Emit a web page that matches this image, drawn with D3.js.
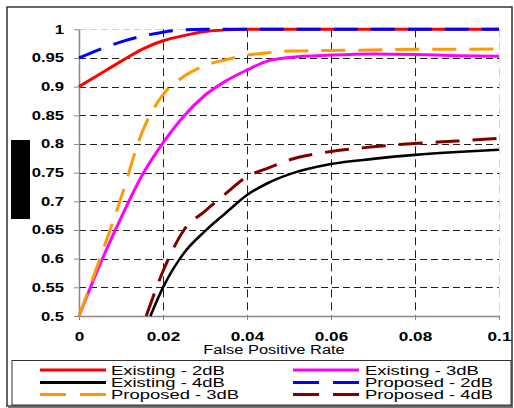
<!DOCTYPE html>
<html>
<head>
<meta charset="utf-8">
<script src="https://cdn.jsdelivr.net/npm/d3@7"></script>
<style>
body { margin: 0; background: #fff; }
svg { display: block; font-family: "Liberation Sans", Arial, sans-serif; }
</style>
</head>
<body>
<script>
// data
var xTicks = [0, 0.02, 0.04, 0.06, 0.08, 0.1];
var yTicks = [0.5, 0.55, 0.6, 0.65, 0.7, 0.75, 0.8, 0.85, 0.9, 0.95, 1];

var fpr = [0, 0.005, 0.01, 0.015, 0.02, 0.025, 0.03, 0.035, 0.04, 0.045, 0.05, 0.06, 0.07, 0.08, 0.09, 0.1];
var existing2dB = [0.9, 0.922, 0.944, 0.965, 0.98, 0.989, 0.996, 0.999, 1, 1, 1, 1, 1, 1, 1, 1];
var existing3dB = [0.5, 0.59, 0.671, 0.745, 0.802, 0.849, 0.885, 0.91, 0.929, 0.945, 0.951, 0.955, 0.957, 0.956, 0.954, 0.953];
var proposed2dB = [0.95, 0.965, 0.978, 0.988, 0.995, 0.999, 1, 1, 1, 1, 1, 1, 1, 1, 1, 1];
var proposed3dB = [0.5, 0.6, 0.706, 0.82, 0.886, 0.918, 0.937, 0.947, 0.955, 0.959, 0.962, 0.963, 0.964, 0.965, 0.965, 0.966];

var fprExisting4 = [0.017, 0.02, 0.025, 0.03, 0.035, 0.04, 0.045, 0.05, 0.06, 0.07, 0.08, 0.09, 0.1];
var existing4dB = [0.5, 0.55, 0.61, 0.648, 0.68, 0.711, 0.732, 0.747, 0.765, 0.774, 0.781, 0.786, 0.79];
var fprProposed4 = [0.016, 0.02, 0.025, 0.03, 0.035, 0.04, 0.045, 0.05, 0.06, 0.07, 0.08, 0.09, 0.1];
var proposed4dB = [0.5, 0.578, 0.65, 0.683, 0.714, 0.743, 0.758, 0.772, 0.787, 0.795, 0.801, 0.805, 0.81];

var seriesNames = ["Existing - 2dB", "Existing - 3dB", "Existing - 4dB", "Proposed - 2dB", "Proposed - 3dB", "Proposed - 4dB"];
var seriesX = [fpr, fpr, fprExisting4, fpr, fpr, fprProposed4];
var seriesY = [existing2dB, existing3dB, existing4dB, proposed2dB, proposed3dB, proposed4dB];
var colors = ["#ff0000", "#ff00ff", "#000000", "#0000ff", "#ff9900", "#800000"];
var dashed = [false, false, false, true, true, true];

var W = 514, H = 408;
var plotLeft = 79, plotRight = 499, plotTop = 29.3, plotBottom = 316;

var svg = d3.select("body").append("svg")
  .attr("width", W)
  .attr("height", H);

// outer frame
svg.append("rect")
  .attr("x", 7).attr("y", 7)
  .attr("width", 505).attr("height", 399)
  .attr("fill", "#fff")
  .attr("stroke", "#333")
  .attr("stroke-width", 1.5);
svg.append("line")
  .attr("x1", 8).attr("x2", 513)
  .attr("y1", 407.5).attr("y2", 407.5)
  .attr("stroke", "#777");

var xScale = d3.scaleLinear().domain([0, 0.1]).range([plotLeft, plotRight]);
var yScale = d3.scaleLinear().domain([0.5, 1]).range([plotBottom, plotTop]);
var snap = function(v) { return Math.round(v) + 0.5; };

// grid
svg.append("g").selectAll("line")
  .data(yTicks.slice(1))
  .enter().append("line")
  .attr("x1", plotLeft).attr("x2", plotRight)
  .attr("y1", function(d) { return snap(yScale(d)); })
  .attr("y2", function(d) { return snap(yScale(d)); })
  .attr("stroke", function(d) { return d == 1 ? "#d0d0d0" : "#222"; })
  .attr("stroke-width", 1)
  .attr("stroke-dasharray", "7,4");
svg.append("g").selectAll("line")
  .data(xTicks.slice(1))
  .enter().append("line")
  .attr("y1", plotTop).attr("y2", plotBottom)
  .attr("x1", function(d) { return snap(xScale(d)); })
  .attr("x2", function(d) { return snap(xScale(d)); })
  .attr("stroke", function(d) { return d == 0.1 ? "#d0d0d0" : "#222"; })
  .attr("stroke-width", 1)
  .attr("stroke-dasharray", "8,5");

// axes
var yAxis = svg.append("g")
  .attr("transform", "translate(" + plotLeft + ",0)")
  .call(d3.axisLeft(yScale).tickValues(yTicks).tickSize(5).tickSizeOuter(0)
    .tickFormat(function(d) { return String(d); }));
var xAxis = svg.append("g")
  .attr("transform", "translate(0," + plotBottom + ")")
  .call(d3.axisBottom(xScale).tickValues(xTicks).tickSize(4).tickSizeOuter(0)
    .tickFormat(function(d) { return String(d); }));

[yAxis, xAxis].forEach(function(ax) {
  ax.select(".domain").attr("stroke", "#888").attr("stroke-width", 1.5);
  ax.selectAll(".tick line").attr("stroke", "#888");
  ax.selectAll("text")
    .attr("x", 0).attr("y", 0).attr("dy", null)
    .attr("fill", "#000")
    .style("font-family", '"Liberation Sans", Arial, sans-serif')
    .style("font-size", "13px")
    .style("font-weight", "bold");
});
yAxis.selectAll("text").attr("transform", "translate(-15,4) scale(1.28,1)");
xAxis.selectAll("text").attr("transform", "translate(0,25) scale(1.32,1)");

// axis title
svg.append("text")
  .attr("transform", "translate(274,354) scale(1.37,1)")
  .attr("text-anchor", "middle")
  .style("font-size", "12px")
  .text("False Positive Rate");

// redaction block over y title
svg.append("rect")
  .attr("x", 11).attr("y", 140)
  .attr("width", 19).attr("height", 79)
  .attr("fill", "#000");

// lines
var line = d3.line()
  .x(function(d) { return xScale(d[0]); })
  .y(function(d) { return yScale(d[1]); })
  .curve(d3.curveMonotoneX);

seriesNames.forEach(function(name, i) {
  var pts = seriesX[i].map(function(x, j) { return [x, seriesY[i][j]]; });
  svg.append("path")
    .datum(pts)
    .attr("fill", "none")
    .attr("stroke", colors[i])
    .attr("stroke-width", i == 2 ? 2.6 : 3)
    .attr("stroke-dasharray", dashed[i] ? "24,13" : null)
    .attr("d", line);
});

// legend
svg.append("rect")
  .attr("x", 12).attr("y", 360.5)
  .attr("width", 499).attr("height", 44.5)
  .attr("fill", "#fff")
  .attr("stroke", "#333")
  .attr("stroke-width", 1);

var legendRows = [370, 382.5, 394.5];
var legend = svg.append("g").selectAll("g")
  .data(seriesNames)
  .enter().append("g")
  .attr("transform", function(d, i) {
    var col = i % 2, row = Math.floor(i / 2);
    return "translate(" + (col == 0 ? 40 : 293) + "," + legendRows[row] + ")";
  });
legend.append("line")
  .attr("x1", 0).attr("x2", 66)
  .attr("stroke", function(d, i) { return colors[i]; })
  .attr("stroke-width", 3)
  .attr("stroke-dasharray", function(d, i) { return dashed[i] ? "26,14" : null; });
legend.append("text")
  .attr("transform", function(d, i) { return "translate(" + (i % 2 == 0 ? 71 : 72) + ",4.5) scale(1.42,1)"; })
  .style("font-size", "13px")
  .text(function(d) { return d; });
</script>
</body>
</html>
